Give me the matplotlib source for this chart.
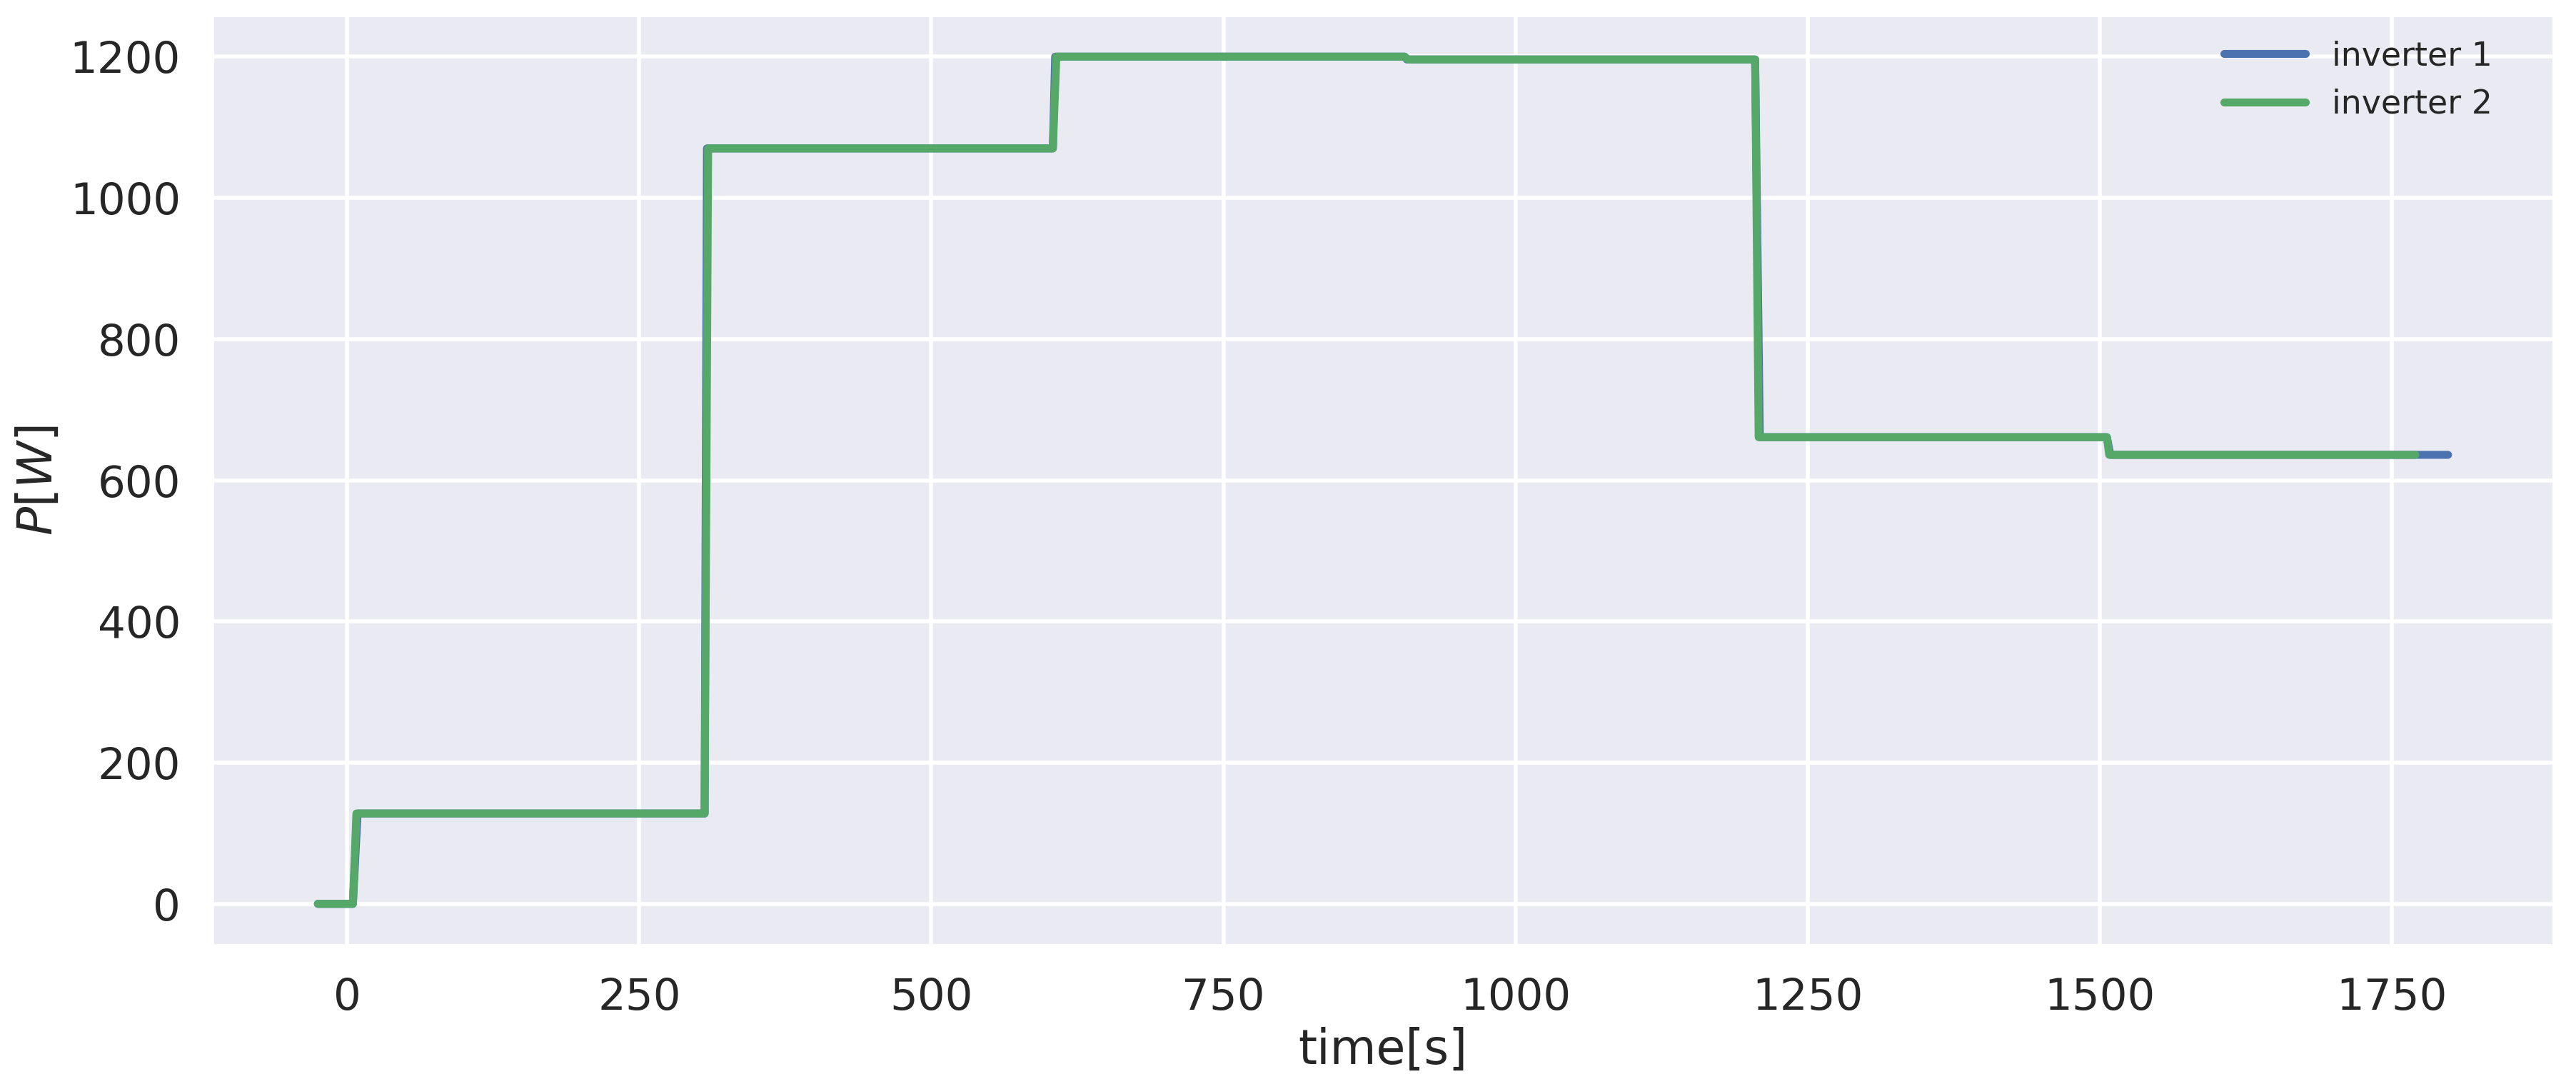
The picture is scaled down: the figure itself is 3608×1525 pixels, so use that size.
import matplotlib
matplotlib.use("Agg")
import matplotlib.pyplot as plt
import seaborn as sns

# time [s] and power [W] samples for the two inverters
time_inv1 = [-25, 5, 9, 306, 308, 604, 606, 905, 907, 1205, 1209, 1506, 1509, 1798]
power_inv1 = [0, 0, 128, 128, 1070, 1070, 1200, 1200, 1196, 1196, 661, 661, 636, 636]

time_inv2 = [-25, 5, 8, 306, 309, 604, 607, 905, 908, 1205, 1208, 1506, 1508, 1770]
power_inv2 = [0, 0, 128, 128, 1070, 1070, 1200, 1200, 1196, 1196, 661, 661, 636, 636]

labels = ["inverter 1", "inverter 2"]
colors = ["#4C72B0", "#55A868"]

sns.set_theme(context="poster", style="darkgrid")
plt.rcParams['font.family'] = ['DejaVu Sans']

fig = plt.figure(figsize=(18.04, 7.625), dpi=200)
ax = fig.add_axes([0.08204, 0.1311, 0.99169 - 0.08204, 0.98689 - 0.1311])

ax.plot(time_inv1, power_inv1, color=colors[0], lw=4, label=labels[0],
        solid_capstyle='round', solid_joinstyle='round')
ax.plot(time_inv2, power_inv2, color=colors[1], lw=4, label=labels[1],
        solid_capstyle='round', solid_joinstyle='round')

ax.set_xlabel("time[s]", fontsize=24)
ax.set_ylabel("$P[W]$", fontsize=24)
ax.tick_params(labelsize=22)
ax.set_xticks([0, 250, 500, 750, 1000, 1250, 1500, 1750])
ax.set_yticks([0, 200, 400, 600, 800, 1000, 1200])
leg = ax.legend(loc="upper right", fontsize=16.5, frameon=False,
                handlelength=2.5, bbox_to_anchor=(0.986, 1.004))

fig.savefig("out.png", dpi=200)
